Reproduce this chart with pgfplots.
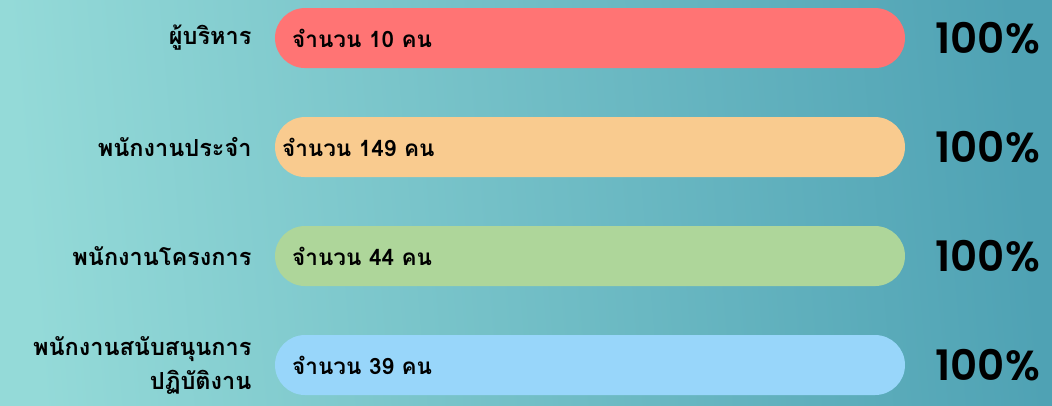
\documentclass[border=0pt]{standalone}
\usepackage{fontspec}
\usepackage{pgfplots}
\usepackage{pgfplotstable}
\pgfplotsset{compat=1.18}
\newfontfamily\thaifont[Script=Thai]{Loma}
\newfontfamily\popfont{Poppins SemiBold}
\definecolor{bgL}{HTML}{94DAD8}
\definecolor{bgR}{HTML}{4FA2B4}
\definecolor{cRed}{HTML}{FF7474}
\definecolor{cOrange}{HTML}{F9CB8F}
\definecolor{cGreen}{HTML}{AED69A}
\definecolor{cBlue}{HTML}{98D6FA}
\pgfplotstableread[col sep=comma]{
x,y,label
2.7,0,จำนวน 10 คน
1.1,1,จำนวน 149 คน
2.7,2,จำนวน 44 คน
2.7,3,จำนวน 39 คน
}\inside
\begin{document}
\begin{tikzpicture}[x=1pt,y=1pt]
\shade[left color=bgL, right color=bgR, shading angle=95] (-275,0) rectangle (777,406);
\begin{axis}[
  at={(0,0)}, anchor=south west,
  scale only axis, width=630pt, height=406pt,
  xmin=0, xmax=100, ymin=-0.349, ymax=3.376,
  y dir=reverse,
  axis line style={draw=none},
  xtick=\empty,
  ytick={0,1,2,3},
  yticklabels={ผู้บริหาร, พนักงานประจำ, พนักงานโครงการ, {พนักงานสนับสนุนการ\\ปฏิบัติงาน}},
  major tick length=0pt,
  yticklabel style={font=\thaifont\bfseries\fontsize{23.5}{34}\selectfont, align=right, xshift=-20pt, text=black},
  clip=false,
  barstyle/.style={xbar, bar width=60pt, bar shift=0pt, draw=none, rounded corners=30pt,
    nodes near coords={\popfont\fontsize{42}{42}\selectfont 100\%},
    every node near coord/.append style={xshift=27pt, text=black, rounded corners=0pt}},
]
\addplot[barstyle, fill=cRed] coordinates {(100,0)};
\addplot[barstyle, fill=cOrange] coordinates {(100,1)};
\addplot[barstyle, fill=cGreen] coordinates {(100,2)};
\addplot[barstyle, fill=cBlue] coordinates {(100,3)};
\addplot[only marks, mark=none, point meta=explicit symbolic,
  nodes near coords, nodes near coords align={anchor=west},
  every node near coord/.append style={font=\thaifont\bfseries\fontsize{22.5}{24}\selectfont, text=black, inner sep=0pt}]
  table[x=x, y=y, meta=label] {\inside};
\end{axis}
\end{tikzpicture}
\end{document}
